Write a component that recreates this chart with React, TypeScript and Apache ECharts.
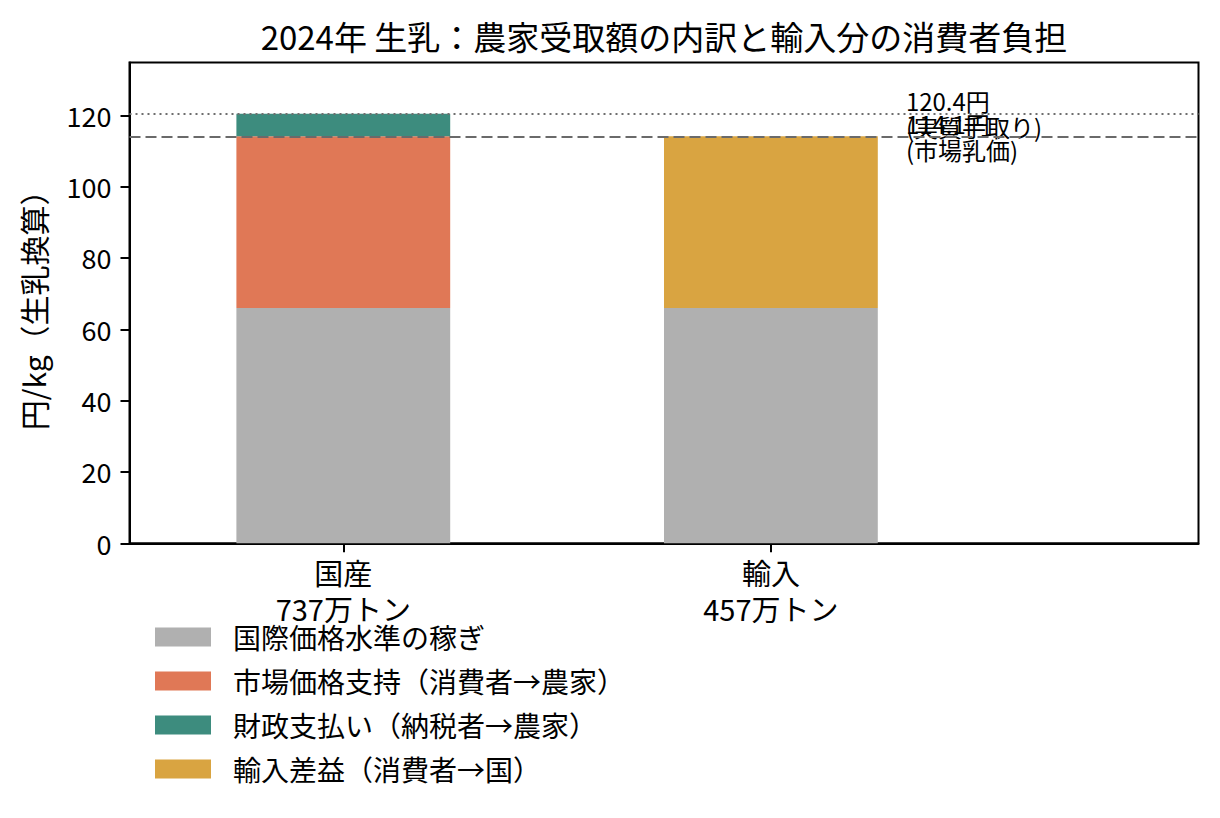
import React, { useEffect, useRef } from "react";
import * as echarts from "echarts";

const categories = ["国産\n737万トン", "輸入\n457万トン"];
const seriesNames = [
  "国際価格水準の稼ぎ",
  "市場価格支持（消費者→農家）",
  "財政支払い（納税者→農家）",
  "輸入差益（消費者→国）",
];
const baseValues = [66.0, 66.0];
const marketSupport = [48.1, 0];
const fiscalPayment = [6.3, 0];
const importGain = [0, 48.1];
const marketPrice = 114.1;
const effectivePrice = 120.4;
const yTicks = [0, 20, 40, 60, 80, 100, 120];
const titleText = "2024年 生乳：農家受取額の内訳と輸入分の消費者負担";
const yName = "円/kg（生乳換算）";
const noteEffective = "120.4円\n(実質手取り)";
const noteMarket = "114.1円\n(市場乳価)";

const colors = ["#b0b0b0", "#e07856", "#3d8c7e", "#d9a441"];
const FONT = "'Noto Sans CJK JP', 'Noto Sans', sans-serif";

// category slots at -0.5, 0, 0.5, 1, 1.5, 2 (half-unit steps)
const slotOf = [1, 3];
const SLOTS = 6;
function padCats(): string[] {
  const a: string[] = new Array(SLOTS).fill("");
  categories.forEach((c, i) => (a[slotOf[i]] = c));
  return a;
}
function padVals(vals: number[]): (number | string)[] {
  const a: (number | string)[] = new Array(SLOTS).fill("-");
  vals.forEach((v, i) => {
    if (v) a[slotOf[i]] = v;
  });
  return a;
}

export default function App() {
  const ref = useRef<HTMLDivElement>(null);
  useEffect(() => {
    document.body.style.margin = "0";
    if (!ref.current) return;
    const chart = echarts.init(ref.current, null, { renderer: "svg" });
    const gridLeft = 129.5;
    const gridRight = 21.5;
    const gridTop = 62.5;
    const gridBottom = 274.7;
    const cats = padCats();
    const shown = (idx: number) => cats[idx] !== "";
    const allSeries = [baseValues, marketSupport, fiscalPayment, importGain];
    const series: any[] = allSeries.map((vals, i) => ({
      name: seriesNames[i],
      type: "bar",
      stack: "total",
      barWidth: "100%",
      data: padVals(vals),
      itemStyle: { color: colors[i] },
      silent: true,
    }));
    series[0].markLine = {
      silent: true,
      symbol: ["none", "none"],
      label: { show: false },
      data: [
        { yAxis: effectivePrice, lineStyle: { color: "#6e6e6e", width: 2, type: [2, 4] } },
        { yAxis: marketPrice, lineStyle: { color: "#6a6a6a", width: 2, type: [11, 5] } },
      ],
    };
    chart.setOption({
      animation: false,
      textStyle: { fontFamily: FONT },
      grid: {
        left: gridLeft,
        right: gridRight,
        top: gridTop,
        bottom: gridBottom,
        show: true,
        borderColor: "#000",
        borderWidth: 2,
      },
      legend: {
        orient: "vertical",
        left: 155,
        top: 623,
        height: 195,
        padding: 0,
        itemWidth: 56,
        itemHeight: 19,
        itemGap: 16,
        icon: "rect",
        selectedMode: false,
        data: seriesNames,
        textStyle: {
          fontSize: 28,
          fontFamily: FONT,
          color: "#000",
          padding: [0, 0, 0, 17],
        },
      },
      xAxis: {
        type: "category",
        boundaryGap: false,
        data: cats,
        axisLine: { show: true, lineStyle: { color: "#000", width: 2 } },
        axisTick: { show: true, interval: (i: number) => shown(i), length: 9, lineStyle: { color: "#000", width: 2 } },
        axisLabel: {
          interval: (i: number) => shown(i),
          fontSize: 29,
          lineHeight: 36,
          color: "#000",
          margin: 11,
          fontFamily: FONT,
        },
        splitLine: { show: false },
      },
      yAxis: {
        type: "value",
        min: 0,
        max: 134.8,
        interval: 20,
        name: yName,
        nameLocation: "middle",
        nameGap: 82,
        nameRotate: 90,
        nameTextStyle: { fontSize: 30, color: "#000", fontFamily: FONT },
        axisLine: { show: true, lineStyle: { color: "#000", width: 2 } },
        axisTick: { show: true, length: 9, customValues: yTicks, lineStyle: { color: "#000", width: 2 } },
        axisLabel: {
          fontSize: 27,
          color: "#000",
          margin: 18,
          fontFamily: FONT,
          customValues: yTicks,
          formatter: (v: number) => (yTicks.includes(Math.round(v * 10) / 10) ? String(v) : ""),
        },
        splitLine: { show: false },
      },
      series,
    });
    const yEff = chart.convertToPixel({ yAxisIndex: 0 }, effectivePrice) as number;
    const yMkt = chart.convertToPixel({ yAxisIndex: 0 }, marketPrice) as number;
    const noteX = chart.convertToPixel({ xAxisIndex: 0 }, 3) as number;
    const titleX = (gridLeft + (1220 - gridRight)) / 2;
    const noteStyle = {
      fontSize: 24,
      lineHeight: 26,
      fontFamily: FONT,
      fill: "#000",
      align: "left",
      verticalAlign: "middle",
    };
    chart.setOption({
      graphic: [
        {
          type: "text",
          x: titleX,
          y: 36,
          style: {
            text: titleText,
            fontSize: 33,
            fontFamily: FONT,
            fill: "#000",
            align: "center",
            verticalAlign: "middle",
          },
        },
        { type: "text", x: noteX + 135, y: yEff, style: { ...noteStyle, text: noteEffective } },
        { type: "text", x: noteX + 135, y: yMkt, style: { ...noteStyle, text: noteMarket } },
      ],
    });
    return () => chart.dispose();
  }, []);
  return <div ref={ref} style={{ width: 1220, height: 818 }} />;
}
